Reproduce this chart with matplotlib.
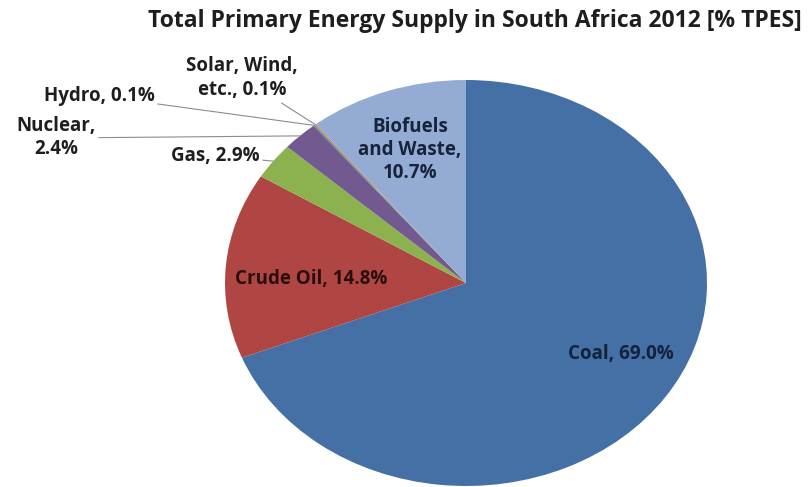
import numpy as np
import matplotlib.pyplot as plt

# TPES shares, clockwise from 12 o'clock
sources = ['Coal', 'Crude Oil', 'Gas', 'Nuclear', 'Hydro', 'Solar, Wind,\netc.', 'Biofuels\nand Waste']
shares = [69.0, 14.8, 2.9, 2.4, 0.1, 0.1, 10.7]
colors = ['#4470a5', '#b04643', '#8bb24f', '#72598f', '#4198af', '#db843d', '#94abd3']

W, H = 808, 487
cx, cy, rx, ry = 466, 283, 241, 203   # pie centre / radii in pixels

fig = plt.figure(figsize=(W / 100, H / 100), dpi=100)
ax = fig.add_axes([0, 0, 1, 1])
ax.pie(shares, colors=colors, startangle=90, counterclock=False,
       wedgeprops=dict(linewidth=0))
ax.set_aspect('auto')
ax.set_xlim(-cx / rx, (W - cx) / rx)
ax.set_ylim(-(H - cy) / ry, cy / ry)
ax.axis('off')


def px(x, y):
    # pixel position -> data coordinates
    return (x - cx) / rx, (cy - y) / ry


def mid(i):
    # point on the rim at the middle of wedge i
    start = sum(shares[:i])
    a = np.deg2rad(90 - (start + shares[i] / 2) * 3.6)
    return np.cos(a), np.sin(a)


font = dict(family='Open Sans', fontweight='bold', fontsize=13.5)
dark = '#1e1e1e'

def label(i, sep=', '):
    return f'{sources[i]}{sep}{shares[i]:.1f}%'

# labels sitting inside the slices
ax.text(*px(621, 354), label(0), ha='center', va='center', color='#14213a', **font)
ax.text(*px(311, 279), label(1), ha='center', va='center', color='#2a0e0c', **font)
ax.text(*px(410, 150), label(6, ',\n'), ha='center', va='center', linespacing=1.2,
        color='#17233a', **font)

# outside labels with leader lines
line = dict(arrowstyle='-', color='#8c8c8c', lw=0.8, shrinkA=0, shrinkB=0)
ax.annotate(label(2), xy=mid(2), xytext=px(260, 156), ha='right', va='center',
            color=dark, arrowprops=line, **font)
ax.annotate(label(3, ',\n'), xy=mid(3), xytext=px(96, 138), ha='right', va='center',
            multialignment='center', linespacing=1.2, color=dark, arrowprops=line, **font)
ax.annotate(label(4), xy=mid(4), xytext=px(155, 96), ha='right', va='center',
            color=dark, arrowprops=line, **font)
ax.annotate(label(5), xy=mid(5), xytext=px(298, 78), ha='right', va='center',
            multialignment='center', linespacing=1.3, color=dark, arrowprops=line, **font)

fig.text(475 / W, 1 - 21 / H, 'Total Primary Energy Supply in South Africa 2012 [% TPES]',
         ha='center', va='center', family='Open Sans', fontweight='bold', fontsize=16.5,
         color=dark)

fig.savefig('out.png', dpi=100)
